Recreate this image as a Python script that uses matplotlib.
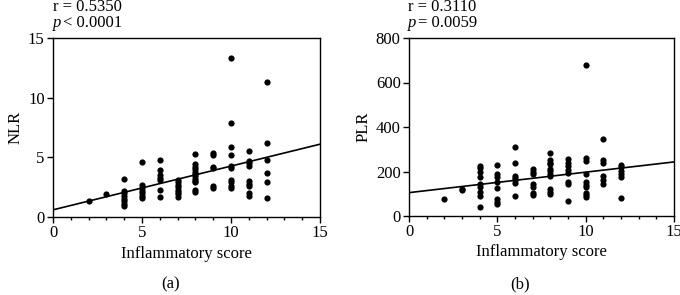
import matplotlib
matplotlib.use("Agg")
import matplotlib.pyplot as plt
from matplotlib.ticker import MultipleLocator

plt.rcParams['font.family'] = ['Liberation Serif', 'DejaVu Serif']

scores = [2, 3, 4, 5, 6, 7, 8, 9, 10, 11, 12]

# NLR values per inflammatory score
nlr_groups = [
    [1.3],
    [1.9],
    [3.2, 2.2, 2.0, 1.8, 1.5, 1.3, 1.1, 0.9],
    [4.6, 2.7, 2.4, 2.2, 2.0, 1.8, 1.6],
    [4.8, 3.9, 3.5, 3.3, 3.1, 2.3, 1.7],
    [3.1, 2.9, 2.7, 2.5, 2.3, 2.1, 1.9, 1.7],
    [5.3, 4.4, 4.2, 4.0, 3.8, 3.6, 3.4, 3.2, 3.0, 2.9, 2.3, 2.1],
    [5.4, 5.2, 4.2, 4.1, 2.6, 2.4],
    [13.3, 7.9, 5.9, 5.2, 4.3, 4.1, 3.1, 2.9, 2.6, 2.4],
    [5.5, 4.7, 4.5, 4.3, 3.0, 2.8, 2.6, 2.0, 1.8],
    [11.3, 6.2, 4.8, 3.7, 2.9, 1.6],
]
nlr_fit = [0.6, 6.1]  # regression line at x=0 and x=15

# PLR values per inflammatory score
plr_groups = [
    [75],
    [115, 122],
    [226, 214, 196, 176, 143, 132, 109, 90, 39],
    [229, 187, 176, 154, 127, 75, 64, 54],
    [311, 238, 181, 169, 161, 150, 91],
    [212, 199, 191, 143, 132, 105, 94],
    [284, 251, 239, 232, 211, 203, 191, 179, 120, 109, 97],
    [254, 239, 224, 206, 194, 154, 143, 69],
    [677, 259, 248, 188, 154, 139, 129, 105, 94, 84],
    [344, 251, 236, 179, 164, 143],
    [229, 218, 203, 191, 176, 79],
]
plr_fit = [105, 243]

fit_x = [0, 15]

def flatten(groups):
    xs, ys = [], []
    for s, g in zip(scores, groups):
        xs += [s] * len(g)
        ys += g
    return xs, ys

nlr_x, nlr_y = flatten(nlr_groups)
plr_x, plr_y = flatten(plr_groups)

W, H = 680, 295
fig = plt.figure(figsize=(6.8, 2.95), dpi=100)
FS = 12

def setup(ax, ymax, ystep, ylabel):
    ax.set_xlim(0, 15)
    ax.set_ylim(0, ymax)
    ax.xaxis.set_major_locator(MultipleLocator(5))
    ax.xaxis.set_minor_locator(MultipleLocator(1))
    ax.yaxis.set_major_locator(MultipleLocator(ystep))
    ax.tick_params(axis='both', which='major', direction='out', length=4, width=1, labelsize=FS, pad=2)
    ax.tick_params(axis='x', which='minor', direction='out', length=2.5, width=1)
    for s in ax.spines.values():
        s.set_linewidth(1)
    ax.set_xlabel('Inflammatory score', fontsize=FS, labelpad=3)
    ax.set_ylabel(ylabel, fontsize=FS, labelpad=3)

def stat_text(x, r_txt, p_txt):
    fig.text(x/W, 1-7/H, r_txt, fontsize=FS, va='center', ha='left')
    fig.text(x/W, 1-23/H, 'p', fontsize=FS, va='center', ha='left', style='italic')
    fig.text((x+10)/W, 1-23/H, p_txt, fontsize=FS, va='center', ha='left')

ax1 = fig.add_axes([53/W, 1-217/H, (320-53)/W, (217-38)/H])
ax1.scatter(nlr_x, nlr_y, s=20, color='black', zorder=3, linewidths=0)
ax1.plot(fit_x, nlr_fit, color='black', lw=1.2)
setup(ax1, 15, 5, 'NLR')
stat_text(53, 'r = 0.5350', '< 0.0001')
fig.text(171/W, 1-284/H, '(a)', fontsize=FS, ha='center', va='center')

ax2 = fig.add_axes([409/W, 1-216/H, (674-409)/W, (216-38)/H])
ax2.scatter(plr_x, plr_y, s=20, color='black', zorder=3, linewidths=0)
ax2.plot(fit_x, plr_fit, color='black', lw=1.2)
setup(ax2, 800, 200, 'PLR')
stat_text(408, 'r = 0.3110', '= 0.0059')
fig.text(520/W, 1-284/H, '(b)', fontsize=FS, ha='center', va='center')

fig.savefig('out.png', dpi=100)
